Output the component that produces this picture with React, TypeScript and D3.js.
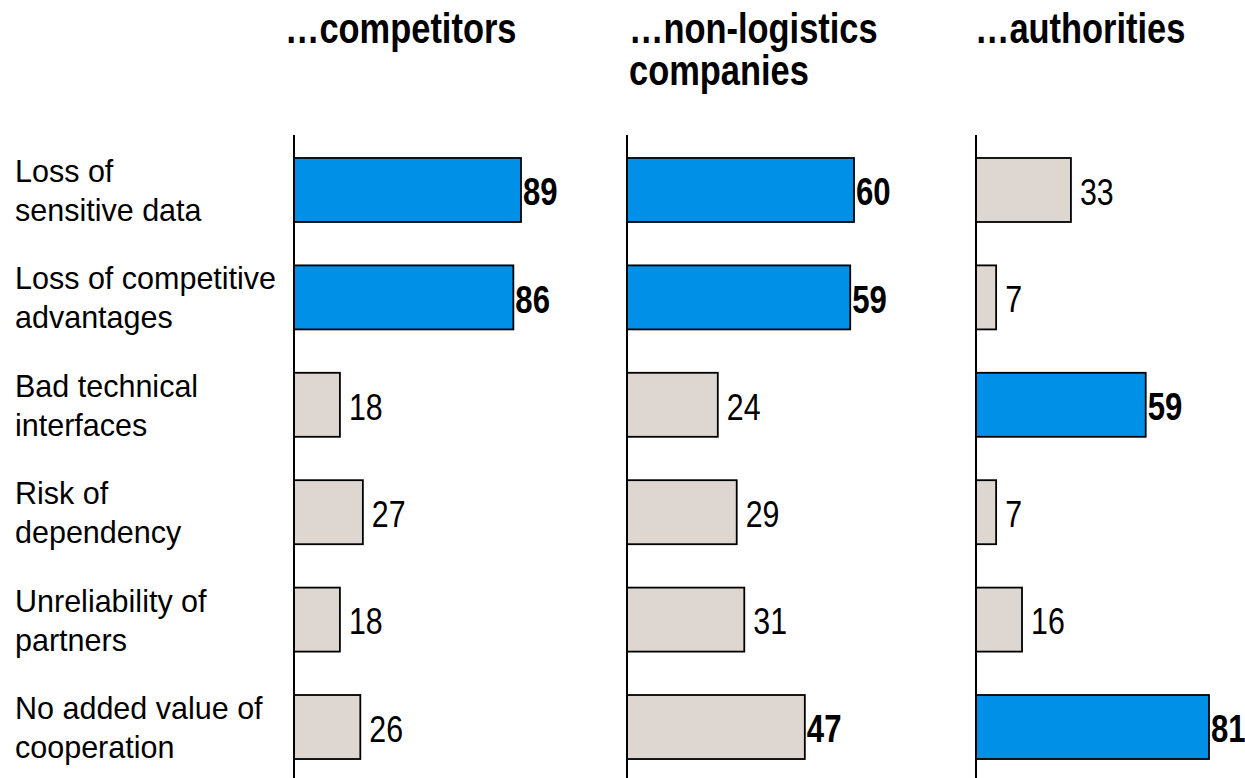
import * as d3 from 'd3';

const categories = [
  'Loss of\nsensitive data',
  'Loss of competitive\nadvantages',
  'Bad technical\ninterfaces',
  'Risk of\ndependency',
  'Unreliability of\npartners',
  'No added value of\ncooperation',
];

const panelTitles = ['…competitors', '…non-logistics\ncompanies', '…authorities'];

const competitorsValues = [89, 86, 18, 27, 18, 26];
const nonLogisticsValues = [60, 59, 24, 29, 31, 47];
const authoritiesValues = [33, 7, 59, 7, 16, 81];

// which bars are blue, which value labels are bold
const competitorsHighlight = [true, true, false, false, false, false];
const nonLogisticsHighlight = [true, true, false, false, false, false];
const authoritiesHighlight = [false, false, true, false, false, true];

const competitorsBold = [true, true, false, false, false, false];
const nonLogisticsBold = [true, true, false, false, false, true];
const authoritiesBold = [false, false, true, false, false, true];

const WIDTH = 1245;
const HEIGHT = 778;
const BLUE = '#0090e8';
const BEIGE = '#ded6d1';
const SANS = '"Liberation Sans", Arial, sans-serif';
// no narrow face installed: squeeze the regular one instead
const NARROW_X = 0.82;

const panels = [
  { title: panelTitles[0], values: competitorsValues, highlight: competitorsHighlight, bold: competitorsBold, x0: 294, w: 227, titleX: 285 },
  { title: panelTitles[1], values: nonLogisticsValues, highlight: nonLogisticsHighlight, bold: nonLogisticsBold, x0: 627, w: 227, titleX: 629 },
  { title: panelTitles[2], values: authoritiesValues, highlight: authoritiesHighlight, bold: authoritiesBold, x0: 976, w: 233, titleX: 975 },
];

export default function App() {
  const y = d3
    .scaleBand<string>()
    .domain(categories)
    .range([135, 782])
    .paddingInner(0.404)
    .paddingOuter(0.214);

  return (
    <svg
      width={WIDTH}
      height={HEIGHT}
      viewBox={`0 0 ${WIDTH} ${HEIGHT}`}
      style={{ position: 'absolute', left: 0, top: 0, background: '#fff' }}
    >
      {/* category labels */}
      {categories.map((c) => {
        const cy = (y(c) ?? 0) + y.bandwidth() / 2;
        return (
          <text key={c} x={15} y={cy - 8} fontFamily={SANS} fontSize={30.5} fill="#000">
            {c.split('\n').map((line, i) => (
              <tspan key={i} x={15} dy={i === 0 ? 0 : 39}>
                {line}
              </tspan>
            ))}
          </text>
        );
      })}

      {panels.map((p, pi) => {
        const x = d3
          .scaleLinear()
          .domain([0, d3.max(p.values) ?? 1])
          .range([p.x0, p.x0 + p.w]);
        return (
          <g key={pi}>
            <text
              transform={`translate(${p.titleX},43) scale(${NARROW_X},1)`}
              fontFamily={SANS}
              fontWeight="bold"
              fontSize={42}
              fill="#000"
            >
              {p.title.split('\n').map((line, i) => (
                <tspan key={i} x={0} dy={i === 0 ? 0 : 42}>
                  {line}
                </tspan>
              ))}
            </text>
            {p.values.map((v, i) => {
              const c = categories[i];
              const by = y(c) ?? 0;
              const bh = y.bandwidth();
              const tx = x(v) + (p.bold[i] ? 2 : 9);
              return (
                <g key={c}>
                  <rect
                    x={x(0)}
                    y={by}
                    width={x(v) - x(0)}
                    height={bh}
                    fill={p.highlight[i] ? BLUE : BEIGE}
                    stroke="#000"
                    strokeWidth={1.8}
                  />
                  <text
                    transform={`translate(${tx},${by + bh / 2}) scale(${NARROW_X},1)`}
                    dy="0.4em"
                    fontFamily={SANS}
                    fontWeight={p.bold[i] ? 'bold' : 'normal'}
                    fontSize={p.bold[i] ? 38 : 37}
                    fill="#000"
                  >
                    {v}
                  </text>
                </g>
              );
            })}
            <line x1={x(0)} x2={x(0)} y1={135} y2={HEIGHT} stroke="#000" strokeWidth={2} />
          </g>
        );
      })}
    </svg>
  );
}
